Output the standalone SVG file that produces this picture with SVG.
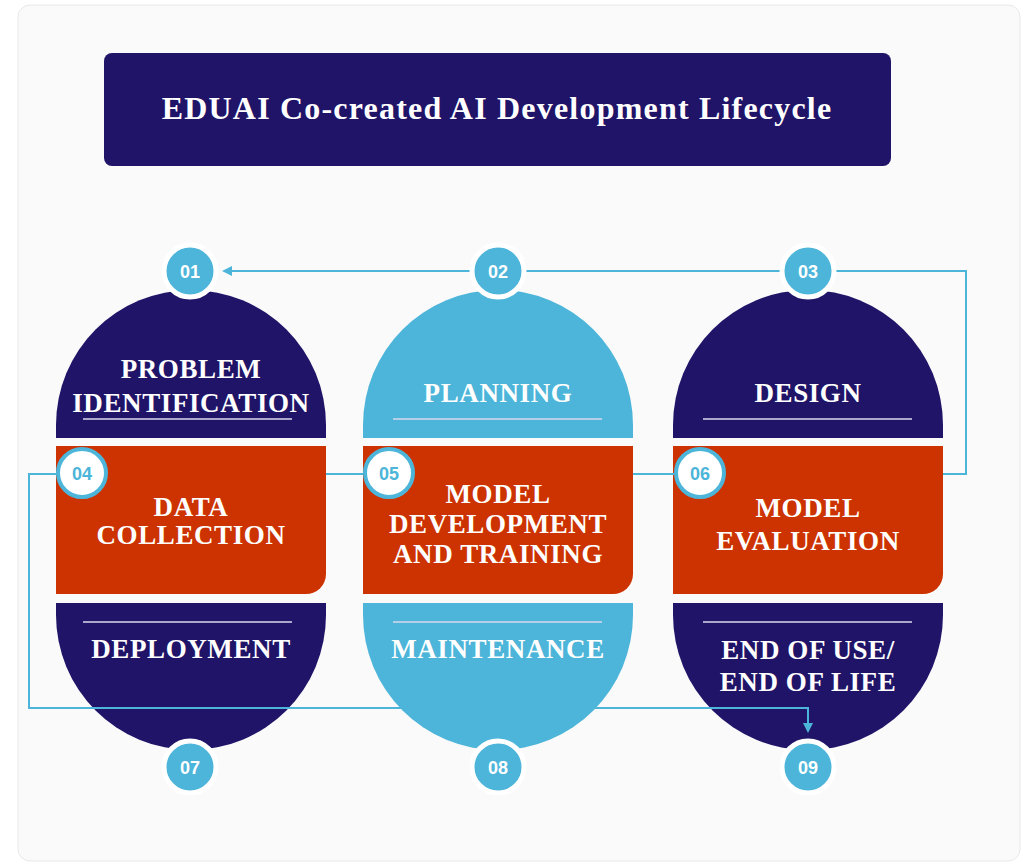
<svg xmlns="http://www.w3.org/2000/svg" width="1024" height="862" viewBox="0 0 1024 862">
<defs>
<style>
.dk{fill:#1f1468}.lt{fill:#4cb5d9}.or{fill:#cc3300}
.t{font-family:"Liberation Serif",serif;font-weight:bold;font-size:27px;letter-spacing:0.6px;fill:#fff;text-anchor:middle}
.n{font-family:"Liberation Sans",Arial,sans-serif;font-weight:bold;font-size:18px;text-anchor:middle}
.ul{stroke:#d8d8ee;stroke-width:1.5}
.c{fill:none;stroke:#4cb5d9;stroke-width:2}
</style>
<marker id="ar" markerWidth="10" markerHeight="10" refX="8" refY="5" orient="auto" markerUnits="userSpaceOnUse"><path d="M0,0 L10,5 L0,10 Z" fill="#4cb5d9"/></marker>
</defs>
<rect x="0" y="0" width="1024" height="862" fill="#fff"/>
<rect x="18" y="5" width="1002" height="856" rx="12" fill="#fafafb" stroke="#e8e8ec"/>
<g id="title"><rect x="104" y="53" width="787" height="113" rx="8" class="dk"/>
<text x="497" y="119" font-family="Liberation Serif,serif" font-weight="bold" font-size="32" letter-spacing="1.2" fill="#fff" text-anchor="middle">EDUAI Co-created  AI Development Lifecycle</text></g>

<g id="shapes">
<path class="dk" d="M56,438 V425 A135,135 0 0 1 326,425 V438 Z"/>
<path class="lt" d="M363,438 V425 A135,135 0 0 1 633,425 V438 Z"/>
<path class="dk" d="M673,438 V425 A135,135 0 0 1 943,425 V438 Z"/>
<path class="or" d="M56,446 H326 V574 A20,20 0 0 1 306,594 H56 Z"/>
<path class="or" d="M363,446 H633 V574 A20,20 0 0 1 613,594 H363 Z"/>
<path class="or" d="M673,446 H943 V574 A20,20 0 0 1 923,594 H673 Z"/>
<path class="dk" d="M56,603 H326 V615 A135,135 0 0 1 56,615 Z"/>
<path class="lt" d="M363,603 H633 V615 A135,135 0 0 1 363,615 Z"/>
<path class="dk" d="M673,603 H943 V615 A135,135 0 0 1 673,615 Z"/>
<line class="ul" x1="83" y1="419" x2="292" y2="419"/>
<line class="ul" x1="393" y1="419" x2="602" y2="419"/>
<line class="ul" x1="703" y1="419" x2="912" y2="419"/>
<line class="ul" x1="83" y1="622" x2="292" y2="622"/>
<line class="ul" x1="393" y1="622" x2="602" y2="622"/>
<line class="ul" x1="703" y1="622" x2="912" y2="622"/>
</g>

<g id="connectors">
<line class="c" x1="470" y1="271" x2="224" y2="271" marker-end="url(#ar)"/>
<line class="c" x1="785" y1="271" x2="525" y2="271"/>
<polyline class="c" points="832,271 966,271 966,474 943,474"/>
<line class="c" x1="633" y1="474" x2="674" y2="474"/>
<line class="c" x1="326" y1="474" x2="363" y2="474"/>
<polyline class="c" points="58,474 29,474 29,708 808,708 808,731" marker-end="url(#ar)"/>
</g>

<g id="n1"><text class="t" x="191" y="378">PROBLEM</text><text class="t" x="191" y="412">IDENTIFICATION</text></g>
<g id="n2"><text class="t" x="498" y="402">PLANNING</text></g>
<g id="n3"><text class="t" x="808" y="402">DESIGN</text></g>
<g id="n4"><text class="t" x="191" y="516">DATA</text><text class="t" x="191" y="544">COLLECTION</text></g>
<g id="n5"><text class="t" x="498" y="503">MODEL</text><text class="t" x="498" y="533">DEVELOPMENT</text><text class="t" x="498" y="563">AND TRAINING</text></g>
<g id="n6"><text class="t" x="808" y="517">MODEL</text><text class="t" x="808" y="550">EVALUATION</text></g>
<g id="n7"><text class="t" x="191" y="658">DEPLOYMENT</text></g>
<g id="n8"><text class="t" x="498" y="658">MAINTENANCE</text></g>
<g id="n9"><text class="t" x="808" y="659">END OF USE/</text><text class="t" x="808" y="691">END OF LIFE</text></g>

<g id="badges">
<g fill="#4cb5d9" stroke="#fff" stroke-width="5">
<circle cx="190" cy="271" r="26"/><circle cx="498" cy="271" r="26"/><circle cx="808" cy="271" r="26"/>
<circle cx="190" cy="767" r="26"/><circle cx="498" cy="767" r="26"/><circle cx="808" cy="767" r="26"/>
</g>
<g fill="#fff" stroke="#4cb5d9" stroke-width="4">
<circle cx="82" cy="473" r="24"/><circle cx="389" cy="473" r="24"/><circle cx="700" cy="473" r="24"/>
</g>
<g class="n" fill="#fff">
<text x="190" y="278">01</text><text x="498" y="278">02</text><text x="808" y="278">03</text>
<text x="190" y="774">07</text><text x="498" y="774">08</text><text x="808" y="774">09</text>
</g>
<g class="n" fill="#4cb5d9">
<text x="82" y="480">04</text><text x="389" y="480">05</text><text x="700" y="480">06</text>
</g>
</g>
</svg>
